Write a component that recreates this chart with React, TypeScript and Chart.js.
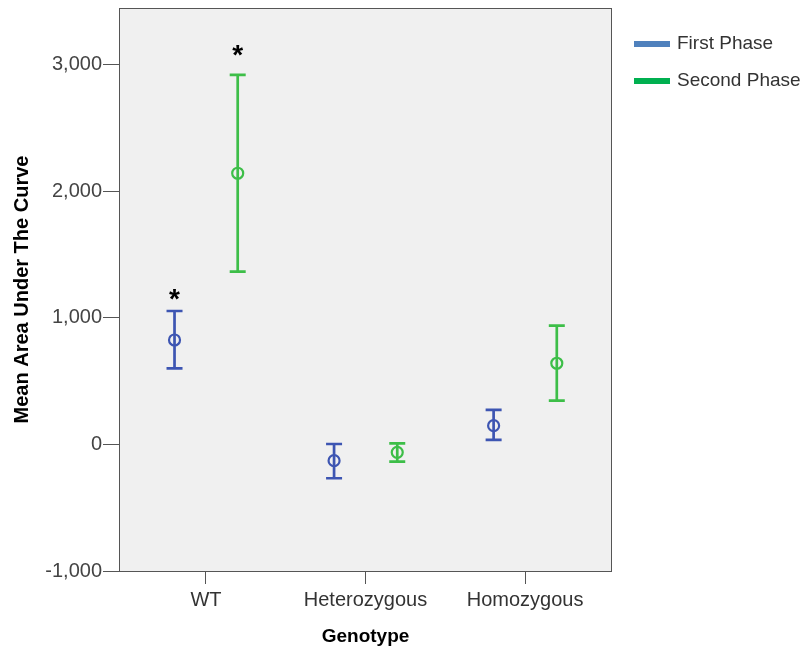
import React, { useEffect, useRef } from 'react';
import { Chart, registerables } from 'chart.js';

Chart.register(...registerables);

// Genotype groups on the x axis
const genotypes = ['WT', 'Heterozygous', 'Homozygous'];
const seriesNames = ['First Phase', 'Second Phase'];

// Mean area under the curve with the lower / upper ends of each error bar
const firstMean = [826, -128, 149];
const firstLower = [602, -267, 36];
const firstUpper = [1055, 4, 273];

const secondMean = [2144, -62, 642];
const secondLower = [1366, -136, 346];
const secondUpper = [2921, 9, 939];

// Groups marked as significant with an asterisk
const firstSignificant = [true, false, false];
const secondSignificant = [true, false, false];

const yTicks = [-1000, 0, 1000, 2000, 3000];

const FONT = "'Liberation Sans', Arial, sans-serif";

const series = [
  {
    label: seriesNames[0],
    mean: firstMean,
    lower: firstLower,
    upper: firstUpper,
    significant: firstSignificant,
    markColor: '#3D55B2',
    swatchColor: '#4F81BD',
    shift: -0.197,
    starLift: 17,
  },
  {
    label: seriesNames[1],
    mean: secondMean,
    lower: secondLower,
    upper: secondUpper,
    significant: secondSignificant,
    markColor: '#3DBE48',
    swatchColor: '#00B050',
    shift: 0.199,
    starLift: 24,
  },
];

const plotBackground = {
  id: 'plotBackground',
  beforeDraw(chart: any) {
    const { ctx, chartArea: a } = chart;
    ctx.save();
    ctx.fillStyle = '#F0F0F0';
    ctx.fillRect(a.left, a.top, a.right - a.left, a.bottom - a.top);
    ctx.restore();
  },
};

const errorBars = {
  id: 'errorBars',
  beforeDatasetsDraw(chart: any) {
    const { ctx } = chart;
    const yScale = chart.scales.y;
    const capHalf = 8;
    series.forEach((s, i) => {
      const meta = chart.getDatasetMeta(i);
      meta.data.forEach((pt: any, j: number) => {
        const x = pt.x;
        const yLo = yScale.getPixelForValue(s.lower[j]);
        const yHi = yScale.getPixelForValue(s.upper[j]);
        ctx.save();
        ctx.strokeStyle = s.markColor;
        ctx.lineWidth = 2.7;
        ctx.beginPath();
        ctx.moveTo(x, yLo);
        ctx.lineTo(x, yHi);
        ctx.moveTo(x - capHalf, yLo);
        ctx.lineTo(x + capHalf, yLo);
        ctx.moveTo(x - capHalf, yHi);
        ctx.lineTo(x + capHalf, yHi);
        ctx.stroke();
        ctx.restore();
      });
    });
  },
  afterDatasetsDraw(chart: any) {
    const { ctx } = chart;
    const yScale = chart.scales.y;
    ctx.save();
    ctx.fillStyle = '#000';
    ctx.font = `bold 28px ${FONT}`;
    ctx.textAlign = 'center';
    ctx.textBaseline = 'alphabetic';
    const m = ctx.measureText('*');
    const mid = (m.actualBoundingBoxAscent - m.actualBoundingBoxDescent) / 2;
    series.forEach((s, i) => {
      const meta = chart.getDatasetMeta(i);
      meta.data.forEach((pt: any, j: number) => {
        if (!s.significant[j]) return;
        const yHi = yScale.getPixelForValue(s.upper[j]);
        ctx.fillText('*', pt.x, yHi - s.starLift + mid);
      });
    });
    ctx.restore();
  },
};

const frameAndLegend = {
  id: 'frameAndLegend',
  afterDraw(chart: any) {
    const { ctx, chartArea: a } = chart;
    ctx.save();
    ctx.strokeStyle = '#555';
    ctx.lineWidth = 1;
    ctx.strokeRect(a.left + 0.5, a.top + 0.5, a.right - a.left - 1, a.bottom - a.top);

    ctx.font = `19px ${FONT}`;
    ctx.textBaseline = 'middle';
    ctx.textAlign = 'left';
    series.forEach((s, i) => {
      const y = 44 + i * 37;
      ctx.fillStyle = s.swatchColor;
      ctx.fillRect(634, y - 3, 36, 6);
      ctx.fillStyle = '#333';
      ctx.fillText(s.label, 677, y);
    });
    ctx.restore();
  },
};

export default function App() {
  const ref = useRef<HTMLCanvasElement>(null);

  useEffect(() => {
    if (!ref.current) return;
    const chart = new Chart(ref.current, {
      type: 'scatter',
      data: {
        datasets: series.map((s) => ({
          label: s.label,
          data: s.mean.map((v, k) => ({ x: k + s.shift, y: v })),
          showLine: false,
          pointStyle: 'circle',
          pointRadius: 5.5,
          pointBorderWidth: 2.2,
          borderColor: s.markColor,
          pointBorderColor: s.markColor,
          backgroundColor: 'rgba(0,0,0,0)',
          pointBackgroundColor: 'rgba(0,0,0,0)',
        })),
      },
      options: {
        responsive: false,
        animation: false,
        devicePixelRatio: 1,
        layout: { padding: { top: 8, right: 193, left: 0, bottom: 0 } },
        plugins: {
          legend: { display: false },
          tooltip: { enabled: false },
        },
        scales: {
          x: {
            type: 'linear',
            min: -0.545,
            max: 2.545,
            afterBuildTicks: (scale: any) => {
              scale.ticks = genotypes.map((_, i) => ({ value: i }));
            },
            afterFit: (scale: any) => {
              scale.height = 78;
              scale.paddingLeft = 0;
              scale.paddingRight = 0;
            },
            ticks: {
              autoSkip: false,
              maxRotation: 0,
              padding: 4,
              color: '#333',
              font: { family: FONT, size: 20 },
              callback: (v: any) => genotypes[Math.round(Number(v))] ?? '',
            },
            grid: { drawOnChartArea: false, drawTicks: true, tickLength: 13, color: '#555' },
            border: { display: false },
            title: {
              display: true,
              text: 'Genotype',
              color: '#000',
              font: { family: FONT, size: 19, weight: 'bold' },
              padding: { top: 0, bottom: 1 },
            },
          },
          y: {
            type: 'linear',
            min: -1000,
            max: 3450,
            afterBuildTicks: (scale: any) => {
              scale.ticks = yTicks.map((v) => ({ value: v }));
            },
            afterFit: (scale: any) => {
              scale.width = 119;
              scale.paddingTop = 0;
              scale.paddingBottom = 0;
            },
            ticks: {
              padding: 1,
              color: '#444',
              font: { family: FONT, size: 20 },
              callback: (v: any) => Number(v).toLocaleString('en-US'),
            },
            grid: { drawOnChartArea: false, drawTicks: true, tickLength: 16, color: '#555' },
            border: { display: false },
            title: {
              display: true,
              text: 'Mean Area Under The Curve',
              color: '#000',
              font: { family: FONT, size: 20, weight: 'bold' },
              padding: { top: 10, bottom: 0 },
            },
          },
        },
      },
      plugins: [plotBackground, errorBars, frameAndLegend],
    } as any);
    return () => chart.destroy();
  }, []);

  return (
    <div style={{ position: 'fixed', left: 0, top: 0, width: 805, height: 649, background: '#fff' }}>
      <canvas ref={ref} width={805} height={649} style={{ display: 'block' }} />
    </div>
  );
}
